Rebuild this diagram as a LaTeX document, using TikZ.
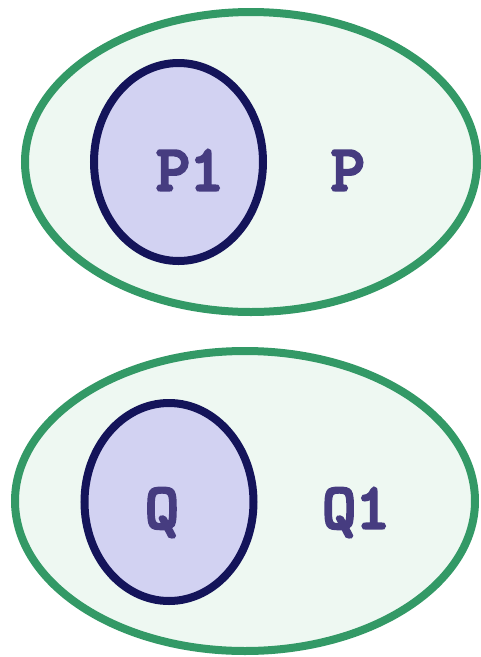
\documentclass[tikz,border=0pt]{standalone}
\usepackage{fontspec}
\newfontfamily\labfont[FakeBold=5]{lmmono10-regular.otf}
\definecolor{outerline}{HTML}{339966}
\definecolor{outerfill}{HTML}{EEF8F2}
\definecolor{innerline}{HTML}{14145A}
\definecolor{innerfill}{HTML}{D2D2F2}
\definecolor{labelcol}{HTML}{463C80}
\tikzset{
  outerset/.style={draw=outerline, fill=outerfill, line width=8pt},
  innerset/.style={draw=innerline, fill=innerfill, line width=8pt},
  setlabel/.style={text=labelcol, font=\labfont\bfseries\fontsize{64}{64}\selectfont, anchor=base, inner sep=0pt}
}
\begin{document}
\begin{tikzpicture}[x=1pt,y=-1pt]
\useasboundingbox (0,0) rectangle (481,657);
% top
\draw[outerset] (251,162) ellipse [x radius=226, y radius=150];
\draw[innerset] (178.5,162) ellipse [x radius=84.5, y radius=99];
\node[setlabel] (p1) at (190,190) {P1};
\node[setlabel] (p) at (348,190) {P};
% bottom
\draw[outerset] (245,501) ellipse [x radius=230, y radius=150];
\draw[innerset] (169,502) ellipse [x radius=84.5, y radius=99];
\node[setlabel] (q) at (162,528) {Q};
\node[setlabel] (q1) at (356,528) {Q1};
\end{tikzpicture}
\end{document}
